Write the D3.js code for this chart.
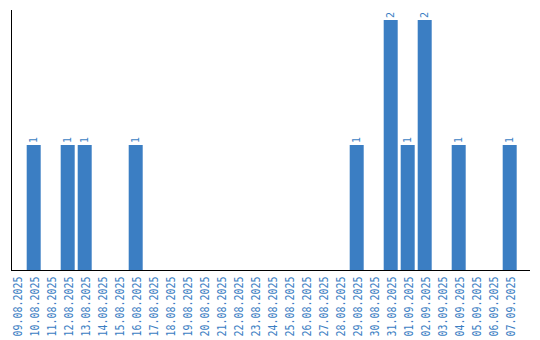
<!DOCTYPE html>
<html>
<head>
<meta charset="utf-8">
<script src="https://cdn.jsdelivr.net/npm/d3@7"></script>
<style>
  body { margin: 0; background: #fff; }
</style>
</head>
<body>
<svg></svg>
<script>
const w = 540
const h = 340

// data
const dates = ['09.08.2025', '10.08.2025', '11.08.2025', '12.08.2025', '13.08.2025',
  '14.08.2025', '15.08.2025', '16.08.2025', '17.08.2025', '18.08.2025',
  '19.08.2025', '20.08.2025', '21.08.2025', '22.08.2025', '23.08.2025',
  '24.08.2025', '25.08.2025', '26.08.2025', '27.08.2025', '28.08.2025',
  '29.08.2025', '30.08.2025', '31.08.2025', '01.09.2025', '02.09.2025',
  '03.09.2025', '04.09.2025', '05.09.2025', '06.09.2025', '07.09.2025']
const counts = [0, 1, 0, 1, 1, 0, 0, 1, 0, 0,
  0, 0, 0, 0, 0, 0, 0, 0, 0, 0,
  1, 0, 2, 1, 2, 0, 1, 0, 0, 1]

const data = dates.map((d, i) => ({ date: d, count: counts[i] }))

const blue = '#3b7ec3'
const font = '"DejaVu Sans Mono", monospace'

const svg = d3.select('svg')
  .attr('width', w)
  .attr('height', h)

const x0 = 11, x1 = 530, yBase = 270, yTop = 10

const xScale = d3.scaleBand()
  .domain(dates)
  .range([8.2, 518.2])
  .paddingInner(3 / 17)
  .paddingOuter(1.5 / 17)

const yScale = d3.scaleLinear()
  .domain([0, 2])
  .range([yBase, 20])

// bars
svg.selectAll('rect').data(data.filter(d => d.count > 0))
  .enter().append('rect')
  .attr('x', d => xScale(d.date))
  .attr('y', d => yScale(d.count))
  .attr('width', xScale.bandwidth())
  .attr('height', d => yBase - yScale(d.count))
  .attr('fill', blue)

// value labels
svg.selectAll('.val').data(data.filter(d => d.count > 0))
  .enter().append('text')
  .attr('class', 'val')
  .attr('transform', d => `translate(${xScale(d.date) + xScale.bandwidth() / 2 + 3.5}, ${yScale(d.count) - 2}) rotate(-90)`)
  .attr('font-family', font)
  .attr('font-size', 10)
  .attr('fill', blue)
  .text(d => d.count)

// axes lines
svg.append('line')
  .attr('x1', x0).attr('x2', x0)
  .attr('y1', yTop).attr('y2', yBase)
  .attr('stroke', '#000')
  .attr('shape-rendering', 'crispEdges')
svg.append('line')
  .attr('x1', x0).attr('x2', x1)
  .attr('y1', yBase + 0.5).attr('y2', yBase + 0.5)
  .attr('stroke', '#000')
  .attr('shape-rendering', 'crispEdges')

// tick labels
const xAxis = d3.axisBottom(xScale).tickSize(0).tickPadding(0)
const xAxisG = svg.append('g')
  .attr('transform', `translate(0, ${yBase})`)
  .call(xAxis)
xAxisG.select('.domain').remove()
xAxisG.selectAll('text')
  .attr('font-family', font)
  .attr('font-size', 12)
  .attr('fill', blue)
  .attr('text-anchor', 'end')
  .attr('dy', null)
  .attr('y', 0)
  .attr('textLength', 60)
  .attr('lengthAdjust', 'spacingAndGlyphs')
  .attr('transform', 'translate(5.5, 6.5) rotate(-90)')
</script>
</body>
</html>
